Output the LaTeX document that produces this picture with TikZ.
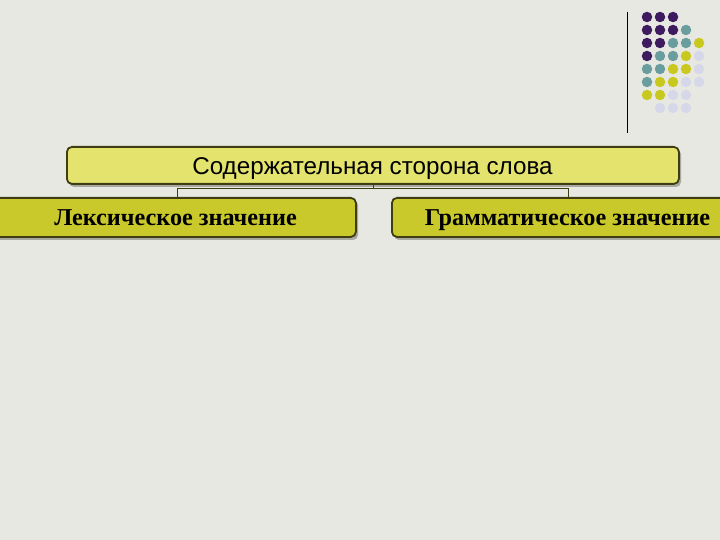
\documentclass[tikz,border=0pt]{standalone}
\usepackage{fontspec}
\setmainfont{Liberation Serif}
\newfontfamily\arialf{Liberation Sans}
\newfontfamily\timesf{Liberation Serif}
\definecolor{bgc}{HTML}{E8E8E3}
\definecolor{topfill}{HTML}{E3E36E}
\definecolor{boxfill}{HTML}{C9C92C}
\definecolor{edgec}{HTML}{3E3E12}
\definecolor{shadowc}{HTML}{A8A8A0}
\definecolor{dotP}{HTML}{3E1A5E}
\definecolor{dotT}{HTML}{6A9E9E}
\definecolor{dotY}{HTML}{C8C81E}
\definecolor{dotL}{HTML}{D6D8EA}
\tikzset{
  rbox/.style={draw=edgec, line width=1.8bp, rounded corners=5bp, inner sep=0pt},
  shad/.style={fill=shadowc, rounded corners=5bp},
  conn/.style={draw=edgec, line width=0.9bp},
  dot/.style={circle, inner sep=0pt, minimum size=10.5bp},
  lbl/.style={anchor=base, inner sep=0pt},
}
\begin{document}
\begin{tikzpicture}[x=1bp,y=-1bp]
\useasboundingbox (0,0) rectangle (720,540);
\fill[bgc] (0,0) rectangle (720,540);
% vertical line
\coordinate (vl1) at (627,12);
\coordinate (vl2) at (627,133);
\draw[black, line width=1bp] (vl1) -- (vl2);
% dots
\foreach \c/\r/\col in {1/1/dotP,2/1/dotP,3/1/dotP,
  1/2/dotP,2/2/dotP,3/2/dotP,4/2/dotT,
  1/3/dotP,2/3/dotP,3/3/dotT,4/3/dotT,5/3/dotY,
  1/4/dotP,2/4/dotT,3/4/dotT,4/4/dotY,5/4/dotL,
  1/5/dotT,2/5/dotT,3/5/dotY,4/5/dotY,5/5/dotL,
  1/6/dotT,2/6/dotY,3/6/dotY,4/6/dotL,5/6/dotL,
  1/7/dotY,2/7/dotY,3/7/dotL,4/7/dotL,
  2/8/dotL,3/8/dotL,4/8/dotL}
  \node[dot, fill=\col] (d\c\r) at ({634+13*\c},{4+13*\r}) {};
% shadows
\fill[shad] (69,149) rectangle (681,187);
\fill[shad] (-10,200) rectangle (358,240);
\fill[shad] (394,200) rectangle (730,240);
% boxes
\node[rbox, fill=topfill, minimum width=612bp, minimum height=37bp, anchor=north west] (top) at (66,146) {};
\node[lbl, font=\arialf\fontsize{24.3}{28}\selectfont] (topt) at (372.5,175) {Содержательная сторона слова};
\node[rbox, fill=boxfill, minimum width=365bp, minimum height=39bp, anchor=north west] (lex) at (-10,197) {};
\node[lbl, font=\timesf\bfseries\fontsize{24.3}{28}\selectfont] (lext) at (175.5,226) {Лексическое значение};
\node[rbox, fill=boxfill, minimum width=340bp, minimum height=39bp, anchor=north west] (gram) at (391,197) {};
\node[lbl, font=\timesf\bfseries\fontsize{24.3}{28}\selectfont] (gramt) at (567.5,226) {Грамматическое значение};
% connectors
\coordinate (j0) at (373,188.5);
\coordinate (jl) at (177,188.5);
\coordinate (jr) at (568,188.5);
\draw[conn] (top.south -| j0) -- (j0);
\draw[conn] (lex.north -| jl) -- (jl) -- (jr) -- (gram.north -| jr);
\end{tikzpicture}
\end{document}
